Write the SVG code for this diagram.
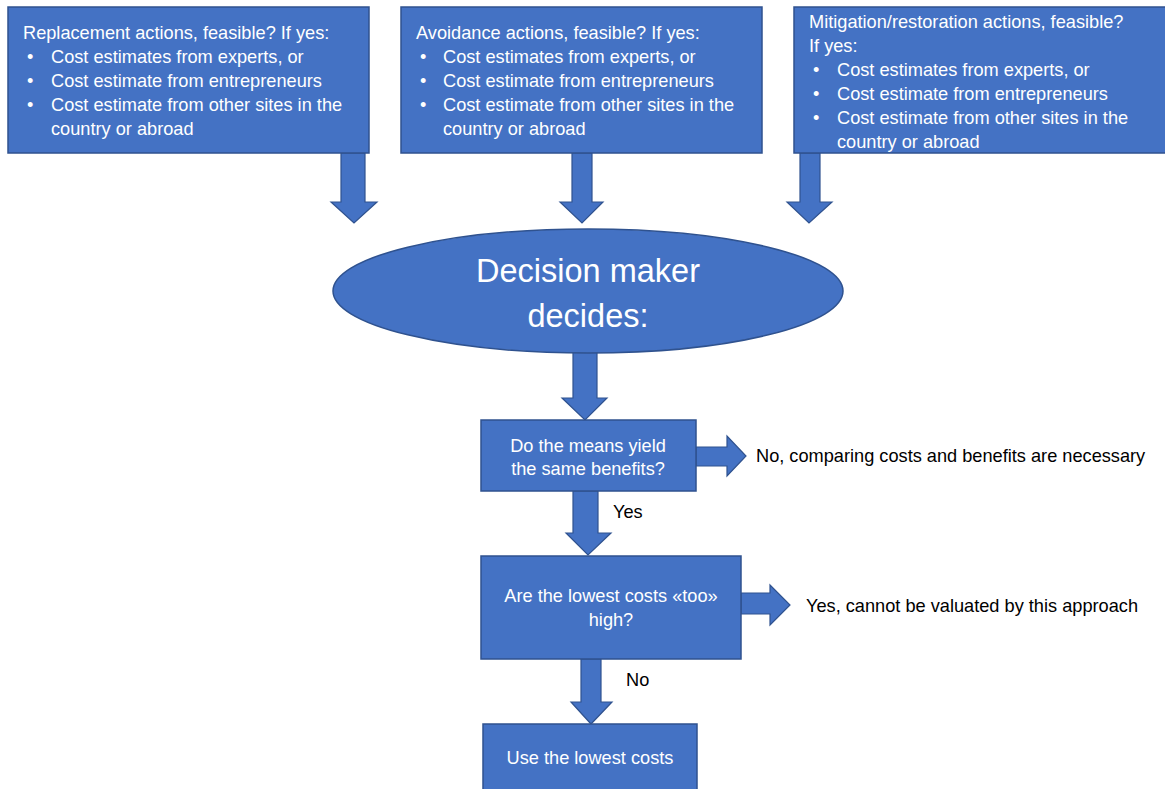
<svg xmlns="http://www.w3.org/2000/svg" width="1165" height="789" viewBox="0 0 1165 789">
<style>
.shape{fill:#4472C4;stroke:#2F528F;stroke-width:1.5}
.arrow{fill:#4472C4;stroke:#2F528F;stroke-width:1.2}
.wt{fill:#ffffff;font-family:"Liberation Sans",Arial,sans-serif;font-size:18.2px}
.bt{fill:#000000;font-family:"Liberation Sans",Arial,sans-serif;font-size:18.2px}
.big{fill:#ffffff;font-family:"Liberation Sans",Arial,sans-serif;font-size:32.5px}
</style>
<rect width="1165" height="789" fill="#ffffff"/>
<g id="connectors">
<polygon class="arrow" points="341,153 365,153 365,202 377,202 354,223 331,202 341,202"/>
<polygon class="arrow" points="572,153 592,153 592,202 603,202 582,223 560,202 572,202"/>
<polygon class="arrow" points="800,153 820,153 820,202 832,202 809,223 787,202 800,202"/>
<polygon class="arrow" points="573,352 597,352 597,398 607,398 585,420 562,398 573,398"/>
<polygon class="arrow" points="696,447 727,447 727,436 746,456 727,476 727,466 696,466"/>
<polygon class="arrow" points="573,491 598,491 598,533 611,533 588,555 566,533 573,533"/>
<polygon class="arrow" points="741,593 770,593 770,585 790,605 770,625 770,614 741,614"/>
<polygon class="arrow" points="581,659 601,659 601,702 612,702 591,724 571,702 581,702"/>
<text class="bt" x="613" y="518">Yes</text>
<text class="bt" x="626" y="686">No</text>
</g>
<g id="replacement">
<rect class="shape" x="8" y="7" width="361" height="146"/>
<text class="wt" x="23" y="39">Replacement actions, feasible? If yes:</text>
<text class="wt" x="27" y="63">•</text><text class="wt" x="51" y="63">Cost estimates from experts, or</text>
<text class="wt" x="27" y="87">•</text><text class="wt" x="51" y="87">Cost estimate from entrepreneurs</text>
<text class="wt" x="27" y="111">•</text><text class="wt" x="51" y="111">Cost estimate from other sites in the</text>
<text class="wt" x="51" y="135">country or abroad</text>
</g>
<g id="avoidance">
<rect class="shape" x="401" y="7" width="361" height="146"/>
<text class="wt" x="416" y="39">Avoidance actions, feasible? If yes:</text>
<text class="wt" x="420" y="63">•</text><text class="wt" x="443" y="63">Cost estimates from experts, or</text>
<text class="wt" x="420" y="87">•</text><text class="wt" x="443" y="87">Cost estimate from entrepreneurs</text>
<text class="wt" x="420" y="111">•</text><text class="wt" x="443" y="111">Cost estimate from other sites in the</text>
<text class="wt" x="443" y="135">country or abroad</text>
</g>
<g id="mitigation">
<rect class="shape" x="794" y="7" width="380" height="146"/>
<text class="wt" x="809" y="28">Mitigation/restoration actions, feasible?</text>
<text class="wt" x="809" y="52">If yes:</text>
<text class="wt" x="813" y="76">•</text><text class="wt" x="837" y="76">Cost estimates from experts, or</text>
<text class="wt" x="813" y="100">•</text><text class="wt" x="837" y="100">Cost estimate from entrepreneurs</text>
<text class="wt" x="813" y="124">•</text><text class="wt" x="837" y="124">Cost estimate from other sites in the</text>
<text class="wt" x="837" y="148">country or abroad</text>
</g>
<g id="decision">
<ellipse class="shape" cx="588" cy="291" rx="255" ry="62"/>
<text class="big" x="588" y="282" text-anchor="middle">Decision maker</text>
<text class="big" x="588" y="327" text-anchor="middle">decides:</text>
</g>
<g id="same-benefits">
<rect class="shape" x="481" y="420" width="215" height="71"/>
<text class="wt" x="588" y="452" text-anchor="middle">Do the means yield</text>
<text class="wt" x="588" y="475" text-anchor="middle">the same benefits?</text>
</g>
<g id="no-compare">
<text class="bt" x="756" y="462">No, comparing costs and benefits are necessary</text>
</g>
<g id="too-high">
<rect class="shape" x="481" y="556" width="260" height="103"/>
<text class="wt" x="611" y="602" text-anchor="middle">Are the lowest costs «too»</text>
<text class="wt" x="611" y="626" text-anchor="middle">high?</text>
</g>
<g id="cannot-value">
<text class="bt" x="806" y="612">Yes, cannot be valuated by this approach</text>
</g>
<g id="use-lowest">
<rect class="shape" x="483" y="724" width="214" height="80"/>
<text class="wt" x="590" y="764" text-anchor="middle">Use the lowest costs</text>
</g>
</svg>
